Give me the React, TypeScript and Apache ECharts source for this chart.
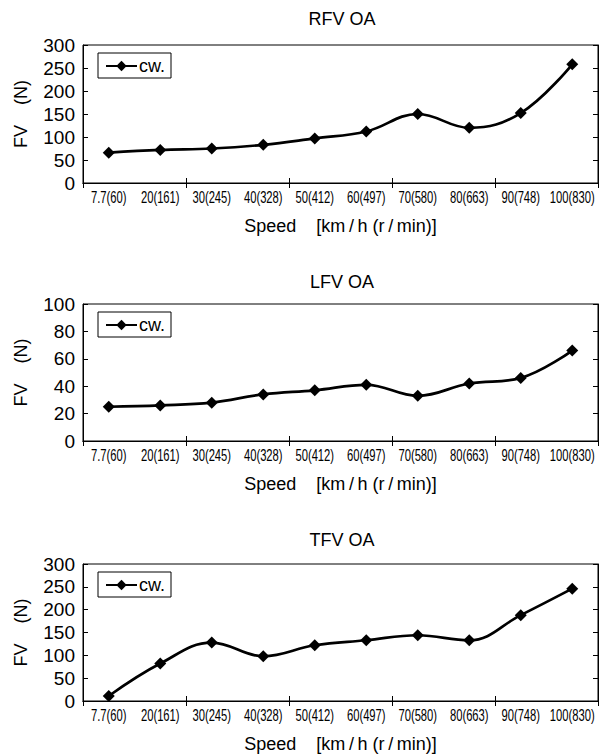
import React, { useEffect, useRef } from "react";
import * as echarts from "echarts";

const categories = [
  "7.7(60)",
  "20(161)",
  "30(245)",
  "40(328)",
  "50(412)",
  "60(497)",
  "70(580)",
  "80(663)",
  "90(748)",
  "100(830)",
];
const rfvValues = [66, 72, 75, 83, 97, 112, 150, 120, 152, 258];
const lfvValues = [25, 26, 28, 34, 37, 41, 33, 42, 46, 66];
const tfvValues = [11, 82, 128, 98, 122, 133, 144, 133, 188, 246];
const titles = ["RFV OA", "LFV OA", "TFV OA"];
const yMax = [300, 100, 300];
const yInterval = [50, 20, 50];
const seriesName = "cw.";
const xName = "Speed    [km\u2009/\u2009h (r\u2009/\u2009min)]";
const yName = "FV    (N)";

const allValues = [rfvValues, lfvValues, tfvValues];

const gridTops = [45, 304, 564];
const gridHeights = [138, 137, 138];
const titleTops = [10, 273, 531];

const FONT = "'Liberation Sans', Arial, Helvetica, sans-serif";

export default function App() {
  const ref = useRef<HTMLDivElement>(null);
  useEffect(() => {
    if (!ref.current) return;
    const chart = echarts.init(ref.current, undefined, { renderer: "svg" });
    const grids: any[] = [];
    const xAxes: any[] = [];
    const yAxes: any[] = [];
    const series: any[] = [];
    const legends: any[] = [];
    const titleOpts: any[] = [];
    for (let i = 0; i < 3; i++) {
      grids.push({
        left: 83,
        right: 11,
        top: gridTops[i],
        height: gridHeights[i],
        show: true,
        borderColor: "#000",
        borderWidth: 1,
        backgroundColor: "transparent",
        containLabel: false,
      });
      titleOpts.push({
        text: titles[i],
        left: 342,
        textAlign: "center",
        top: titleTops[i],
        padding: 0,
        textStyle: { fontFamily: FONT, fontSize: 18, fontWeight: "normal", color: "#000" },
      });
      xAxes.push({
        type: "category",
        gridIndex: i,
        data: categories,
        boundaryGap: true,
        position: "bottom",
        axisLine: { show: true, lineStyle: { color: "#000", width: 1 } },
        axisTick: { show: true, inside: true, length: 5, lineStyle: { color: "#000" } },
        axisLabel: { show: false },
        splitLine: { show: false },
        name: xName,
        nameLocation: "middle",
        nameGap: 34,
        nameTextStyle: { fontFamily: FONT, fontSize: 18, color: "#000" },
      });
      xAxes.push({
        type: "category",
        gridIndex: i,
        data: categories,
        boundaryGap: true,
        position: "top",
        axisLine: { show: true, lineStyle: { color: "#000", width: 1 } },
        axisTick: { show: true, inside: true, length: 5, lineStyle: { color: "#000" } },
        axisLabel: { show: false },
        splitLine: { show: false },
      });
      yAxes.push({
        type: "value",
        gridIndex: i,
        min: 0,
        max: yMax[i],
        interval: yInterval[i],
        position: "left",
        axisLine: { show: true, lineStyle: { color: "#000", width: 1 } },
        axisTick: { show: true, inside: true, length: 5, lineStyle: { color: "#000" } },
        axisLabel: { margin: 8, color: "#000", fontFamily: FONT, fontSize: 19 },
        splitLine: { show: false },
        name: yName,
        nameLocation: "middle",
        nameRotate: 90,
        nameGap: 53,
        nameTextStyle: { fontFamily: FONT, fontSize: 18, color: "#000" },
      });
      yAxes.push({
        type: "value",
        gridIndex: i,
        min: 0,
        max: yMax[i],
        interval: yInterval[i],
        position: "right",
        axisLine: { show: true, lineStyle: { color: "#000", width: 1 } },
        axisTick: { show: true, inside: true, length: 5, lineStyle: { color: "#000" } },
        axisLabel: { show: false },
        splitLine: { show: false },
      });
      series.push({
        type: "line",
        name: seriesName,
        xAxisIndex: i * 2,
        yAxisIndex: i * 2,
        data: allValues[i],
        smooth: 0.4,
        symbol: "diamond",
        symbolSize: 12,
        showAllSymbol: true,
        lineStyle: { color: "#000", width: 2.7 },
        itemStyle: { color: "#000" },
      });
      legends.push({
        data: [seriesName],
        left: 98,
        top: gridTops[i] + 8,
        orient: "horizontal",
        padding: [4, 6, 3, 7],
        itemWidth: 31,
        itemHeight: 13,
        itemGap: 0,
        borderColor: "#000",
        borderWidth: 1,
        backgroundColor: "#fff",
        selectedMode: false,
        textStyle: { fontFamily: FONT, fontSize: 18, color: "#000", padding: [0, 0, 0, -3] },
      });
    }
    chart.setOption({
      animation: false,
      backgroundColor: "#fff",
      title: titleOpts,
      grid: grids,
      xAxis: xAxes,
      yAxis: yAxes,
      legend: legends,
      series,
    });

    // Condensed category labels, placed with the axes' own scales
    const labels: any[] = [];
    for (let i = 0; i < 3; i++) {
      const y0 = chart.convertToPixel({ yAxisIndex: i * 2 }, 0) as number;
      categories.forEach((c) => {
        const x = chart.convertToPixel({ xAxisIndex: i * 2 }, c) as number;
        labels.push({
          type: "text",
          x,
          y: y0 + 6,
          scaleX: 0.66,
          scaleY: 1,
          silent: true,
          style: {
            text: c,
            fill: "#000",
            fontSize: 17,
            fontFamily: FONT,
            align: "center",
            verticalAlign: "top",
          },
        });
      });
    }
    chart.setOption({ graphic: labels });
    return () => chart.dispose();
  }, []);
  return (
    <div
      ref={ref}
      style={{ position: "absolute", left: 0, top: 0, width: 609, height: 754 }}
    />
  );
}
